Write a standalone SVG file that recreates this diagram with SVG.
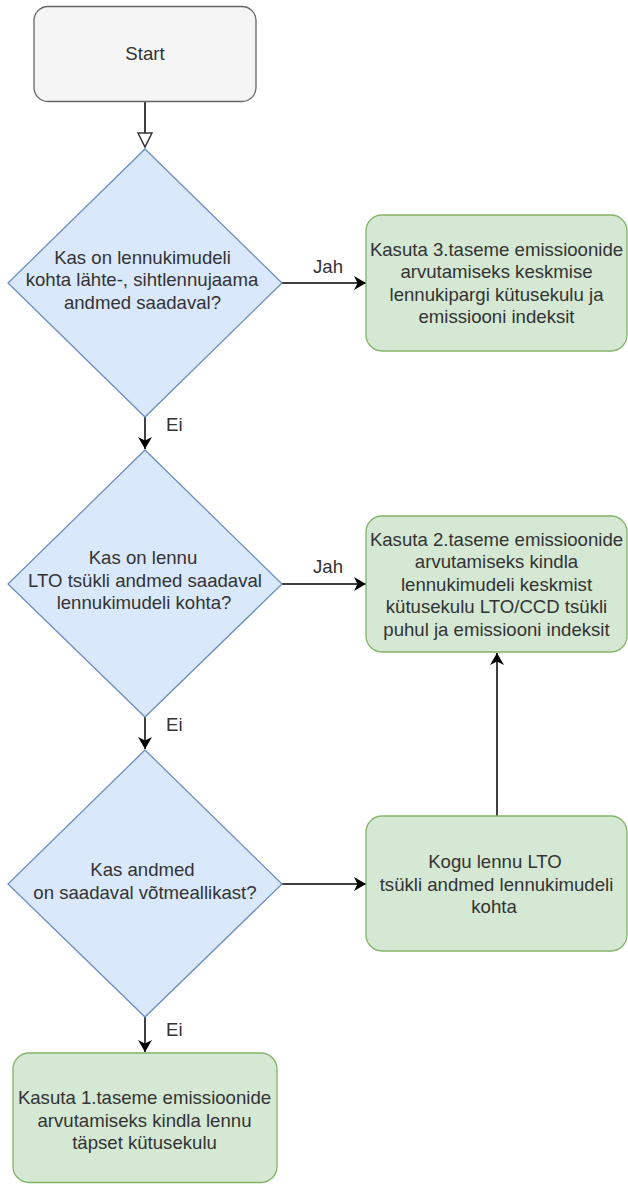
<svg xmlns="http://www.w3.org/2000/svg" width="628" height="1184" viewBox="0 0 628 1184">
<style>
.t{font-family:"Liberation Sans",Arial,Helvetica,sans-serif;font-size:18.6px;fill:#333;text-anchor:middle}
.l{font-family:"Liberation Sans",Arial,Helvetica,sans-serif;font-size:18.6px;fill:#333}
.dia{fill:#dae8fc;stroke:#6c8ebf;stroke-width:1.3}
.grn{fill:#d5e8d4;stroke:#82b366;stroke-width:1.3}
.edge{fill:none;stroke:#000;stroke-width:1.5}
</style>
<defs>
<marker id="arr" markerUnits="userSpaceOnUse" markerWidth="14" markerHeight="14" refX="12" refY="7" orient="auto" viewBox="0 0 14 14">
<path d="M0,0 L12,7 L0,14 L3.5,7 z" fill="#000"/>
</marker>
<marker id="open" markerUnits="userSpaceOnUse" markerWidth="18" markerHeight="18" refX="15" refY="8" orient="auto" viewBox="0 0 18 16">
<path d="M1,1 L15,8 L1,15 z" fill="#fff" stroke="#333" stroke-width="1.5"/>
</marker>
</defs>
<rect width="628" height="1184" fill="#fff"/>
<g id="connectors">
<line class="edge" x1="145" y1="102" x2="145" y2="147" stroke="#333" marker-end="url(#open)"/>
<line class="edge" x1="145" y1="417" x2="145" y2="449" marker-end="url(#arr)"/>
<line class="edge" x1="282" y1="283" x2="366" y2="283" marker-end="url(#arr)"/>
<line class="edge" x1="282" y1="584" x2="366" y2="584" marker-end="url(#arr)"/>
<line class="edge" x1="145" y1="717" x2="145" y2="749" marker-end="url(#arr)"/>
<line class="edge" x1="282" y1="884" x2="366" y2="884" marker-end="url(#arr)"/>
<line class="edge" x1="145" y1="1017" x2="145" y2="1052" marker-end="url(#arr)"/>
<line class="edge" x1="497" y1="816" x2="497" y2="653" marker-end="url(#arr)"/>
<text class="l" x="313" y="273">Jah</text>
<text class="l" x="313" y="573">Jah</text>
<text class="l" x="166" y="431">Ei</text>
<text class="l" x="166" y="731">Ei</text>
<text class="l" x="166" y="1036">Ei</text>
</g>
<g id="start">
<rect x="34" y="6.5" width="222" height="95" rx="14" fill="#f5f5f5" stroke="#666" stroke-width="1.3"/>
<text class="t" x="145" y="60">Start</text>
</g>
<g id="d1">
<polygon class="dia" points="145,149 282,283 145,417 8,283"/>
<text class="t" x="142.5" y="263.5">Kas on lennukimudeli</text>
<text class="t" x="142" y="286">kohta lähte-, sihtlennujaama</text>
<text class="t" x="142.5" y="308.5">andmed saadaval?</text>
</g>
<g id="b1">
<rect class="grn" x="366" y="215" width="261" height="136" rx="16"/>
<text class="t" x="496.5" y="255.5">Kasuta 3.taseme emissioonide</text>
<text class="t" x="496.5" y="278">arvutamiseks keskmise</text>
<text class="t" x="496.5" y="300.5">lennukipargi kütusekulu ja</text>
<text class="t" x="496.5" y="323">emissiooni indeksit</text>
</g>
<g id="d2">
<polygon class="dia" points="145,450 282,584 145,717 8,584"/>
<text class="t" x="143" y="564">Kas on lennu</text>
<text class="t" x="145" y="586.5">LTO tsükli andmed saadaval</text>
<text class="t" x="144" y="609">lennukimudeli kohta?</text>
</g>
<g id="b2">
<rect class="grn" x="366" y="516" width="261" height="136" rx="16"/>
<text class="t" x="496.5" y="545.5">Kasuta 2.taseme emissioonide</text>
<text class="t" x="496.5" y="568">arvutamiseks kindla</text>
<text class="t" x="496.5" y="590.5">lennukimudeli keskmist</text>
<text class="t" x="496.5" y="613">kütusekulu LTO/CCD tsükli</text>
<text class="t" x="496.5" y="635.5">puhul ja emissiooni indeksit</text>
</g>
<g id="d3">
<polygon class="dia" points="145,750 282,884 145,1017 8,884"/>
<text class="t" x="142.5" y="876">Kas andmed</text>
<text class="t" x="145" y="898.5">on saadaval võtmeallikast?</text>
</g>
<g id="b3">
<rect class="grn" x="366" y="816" width="261" height="135" rx="16"/>
<text class="t" x="495" y="868">Kogu lennu LTO</text>
<text class="t" x="496.5" y="890.5">tsükli andmed lennukimudeli</text>
<text class="t" x="494" y="913">kohta</text>
</g>
<g id="b4">
<rect class="grn" x="13" y="1053" width="264" height="129.5" rx="16"/>
<text class="t" x="144.5" y="1104">Kasuta 1.taseme emissioonide</text>
<text class="t" x="144.5" y="1126.5">arvutamiseks kindla lennu</text>
<text class="t" x="144.5" y="1149">täpset kütusekulu</text>
</g>
</svg>
